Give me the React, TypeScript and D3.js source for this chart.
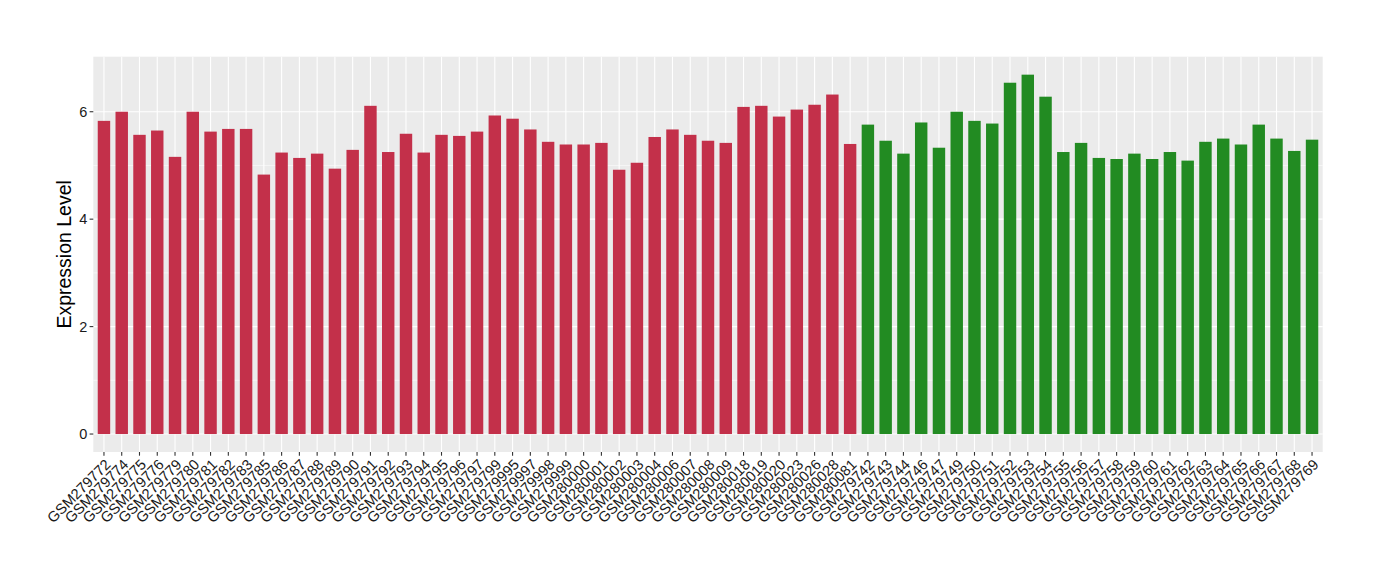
import React from "react";
import * as d3 from "d3";

const redSamples = [
  "GSM279772","GSM279774","GSM279775","GSM279776","GSM279779","GSM279780","GSM279781","GSM279782","GSM279783",
  "GSM279785","GSM279786","GSM279787","GSM279788","GSM279789","GSM279790","GSM279791","GSM279792","GSM279793",
  "GSM279794","GSM279795","GSM279796","GSM279797","GSM279799","GSM279995","GSM279997","GSM279998","GSM279999",
  "GSM280000","GSM280001","GSM280002","GSM280003","GSM280004","GSM280006","GSM280007","GSM280008","GSM280009",
  "GSM280018","GSM280019","GSM280020","GSM280023","GSM280026","GSM280028","GSM280081",
];
const redValues = [
  5.83, 6.0, 5.57, 5.65, 5.16, 6.0, 5.63, 5.68, 5.68,
  4.83, 5.24, 5.14, 5.22, 4.94, 5.29, 6.11, 5.25, 5.59,
  5.24, 5.57, 5.55, 5.63, 5.93, 5.87, 5.67, 5.44, 5.39,
  5.39, 5.42, 4.92, 5.05, 5.53, 5.67, 5.57, 5.46, 5.42,
  6.09, 6.11, 5.91, 6.04, 6.13, 6.32, 5.4,
];
const greenSamples = [
  "GSM279742","GSM279743","GSM279744","GSM279746","GSM279747","GSM279749","GSM279750","GSM279751","GSM279752",
  "GSM279753","GSM279754","GSM279755","GSM279756","GSM279757","GSM279758","GSM279759","GSM279760","GSM279761",
  "GSM279762","GSM279763","GSM279764","GSM279765","GSM279766","GSM279767","GSM279768","GSM279769",
];
const greenValues = [
  5.76, 5.46, 5.22, 5.8, 5.33, 6.0, 5.83, 5.78, 6.54,
  6.69, 6.28, 5.25, 5.42, 5.14, 5.12, 5.22, 5.12, 5.25,
  5.09, 5.44, 5.5, 5.39, 5.76, 5.5, 5.27, 5.48,
];
const yTicks = [0, 2, 4, 6];
const yMinorTicks = [1, 3, 5];

const RED = "#C3304A";
const GREEN = "#228B22";
const FONT = "'Liberation Sans', Arial, Helvetica, sans-serif";

export default function App() {
  const W = 1380, H = 580;
  const left = 93.3, right = 1322.7, top = 56.7, bottom = 452;
  const data = [
    ...redSamples.map((s, i) => ({ s, v: redValues[i], c: RED })),
    ...greenSamples.map((s, i) => ({ s, v: greenValues[i], c: GREEN })),
  ];
  const x = d3.scalePoint<string>().domain(data.map(d => d.s)).range([left, right]).padding(0.6);
  const bw = x.step() * 0.7;
  const maxV = d3.max(data, d => d.v) as number;
  const ext = maxV * 0.05;
  const y = d3.scaleLinear().domain([-ext, maxV + ext]).range([bottom, top]);

  return (
    <svg width={W} height={H} style={{ position: "absolute", left: 0, top: 0, background: "#fff" }} fontFamily={FONT}>
      <rect x={left} y={top} width={right - left} height={bottom - top} fill="#EBEBEB" />
      {yMinorTicks.map(t => (
        <line key={"m" + t} x1={left} x2={right} y1={y(t)} y2={y(t)} stroke="#fff" strokeWidth={0.55} />
      ))}
      {yTicks.map(t => (
        <line key={"g" + t} x1={left} x2={right} y1={y(t)} y2={y(t)} stroke="#fff" strokeWidth={1.1} />
      ))}
      {data.map(d => (
        <line key={"v" + d.s} x1={x(d.s)} x2={x(d.s)} y1={top} y2={bottom} stroke="#fff" strokeWidth={1.1} />
      ))}
      {data.map(d => (
        <rect key={"b" + d.s} x={(x(d.s) as number) - bw / 2} width={bw} y={y(d.v)} height={y(0) - y(d.v)} fill={d.c} />
      ))}
      {yTicks.map(t => (
        <g key={"yt" + t}>
          <line x1={left - 3.7} x2={left} y1={y(t)} y2={y(t)} stroke="#333" strokeWidth={1.1} />
          <text x={left - 6} y={y(t)} dy="0.36em" textAnchor="end" fontSize={14.5} fill="#1A1A1A">{t}</text>
        </g>
      ))}
      {data.map(d => (
        <g key={"xt" + d.s}>
          <line x1={x(d.s)} x2={x(d.s)} y1={bottom} y2={bottom + 3.7} stroke="#333" strokeWidth={1.1} />
          <text
            transform={`translate(${x(d.s)},${bottom + 6}) rotate(-45)`}
            textAnchor="end"
            dy="0.72em"
            fontSize={14.7}
            fill="#1A1A1A"
          >{d.s}</text>
        </g>
      ))}
      <text transform={`translate(71,${(top + bottom) / 2}) rotate(-90)`} textAnchor="middle" fontSize={19.5} fill="#000">
        Expression Level
      </text>
    </svg>
  );
}
